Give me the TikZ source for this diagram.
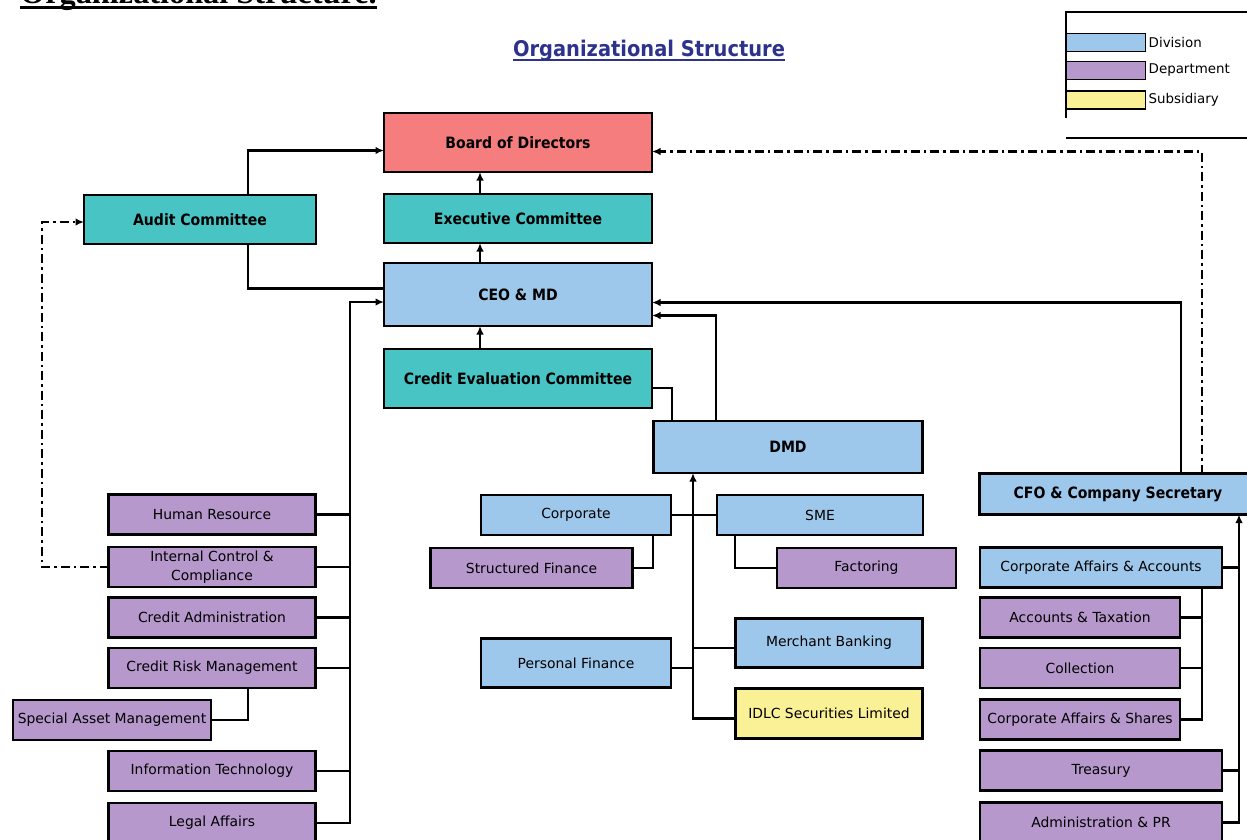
\documentclass[tikz,border=0pt]{standalone}
\usepackage{fontspec}
\setmainfont{DejaVu Sans}[BoldFeatures={FakeStretch=0.9}]
\newfontfamily\oldserif{Liberation Serif}
\usetikzlibrary{positioning}
\usetikzlibrary{calc}
\usetikzlibrary{arrows.meta}

\definecolor{boardred}{RGB}{245,125,125}
\definecolor{commteal}{RGB}{72,196,196}
\definecolor{divblue}{RGB}{158,200,235}
\definecolor{deptpurple}{RGB}{183,152,204}
\definecolor{subyellow}{RGB}{250,240,150}
\definecolor{titleblue}{RGB}{45,50,140}

\tikzset{
  box/.style={draw, line width=2.6pt, inner sep=0pt, outer sep=0pt, align=center,
    minimum height=40pt, font=\fontsize{13.9}{19}\selectfont},
  boldbox/.style={box, font=\fontsize{15.6}{19}\selectfont\bfseries},
  boardbox/.style={boldbox, fill=boardred},
  commbox/.style={boldbox, fill=commteal},
  headbox/.style={boldbox, fill=divblue},
  divbox/.style={box, fill=divblue},
  deptbox/.style={box, fill=deptpurple},
  subbox/.style={box, fill=subyellow},
  legbox/.style={draw, line width=1.5pt, minimum width=79pt, minimum height=18pt, inner sep=0pt, outer sep=0pt},
  legtext/.style={inner sep=0pt, font=\fontsize{13.4}{15}\selectfont},
  link/.style={line width=2.3pt},
  tip/.style={-{Latex[length=8.5pt,width=7.5pt]}},
  arr/.style={link, tip},
  dashdot/.style={line width=2.3pt, dash pattern=on 9pt off 4pt on 2.5pt off 4pt}
}

\begin{document}
\begin{tikzpicture}[x=1pt, y=-1pt]
  \useasboundingbox (0,0) rectangle (1247,839);

  % titoli
  \node[anchor=base west, inner sep=0pt, font=\oldserif\bfseries\fontsize{32.3}{34}\selectfont] (oldtitle) at (20,3) {Organizational Structure.};
  \draw[line width=3pt] ($(oldtitle.base west)+(0,4.5)$) -- ($(oldtitle.base east)+(0,4.5)$);
  \node[anchor=base, inner sep=0pt, text=titleblue, font=\fontsize{21.6}{24}\selectfont\bfseries] (title) at (649,56) {Organizational Structure};
  \draw[titleblue, line width=1.6pt] ($(title.base west)+(0,4)$) -- ($(title.base east)+(0,4)$);

  % legenda
  \draw[line width=2pt] (1247,12) -| (1066,118);
  \draw[line width=2pt] (1066,138) -- (1247,138);
  \node[legbox, fill=divblue] (legdiv) at (1106,42.5) {};
  \node[legbox, fill=deptpurple] (legdept) at (1106,70.5) {};
  \node[legbox, fill=subyellow] (legsub) at (1106,100) {};
  \node[legtext, right=3pt of legdiv] (legdivtxt) {Division};
  \node[legtext, right=3pt of legdept] (legdepttxt) {Department};
  \node[legtext, right=3pt of legsub] (legsubtxt) {Subsidiary};

  % vertici
  \node[boardbox, minimum width=268pt, minimum height=59pt] (board) at (518,142.5) {Board of Directors};
  \node[commbox, minimum width=268pt, minimum height=49pt, below=22pt of board] (exec) {Executive Committee};
  \node[headbox, minimum width=268pt, minimum height=63pt, below=20pt of exec] (ceo) {CEO \& MD};
  \node[commbox, minimum width=268pt, minimum height=59pt, below=23pt of ceo] (cec) {Credit Evaluation Committee};
  \node[commbox, minimum width=232pt, minimum height=49pt] (audit) at (200,219.5) {Audit Committee};
  \node[headbox, minimum width=269pt, minimum height=52pt] (dmd) at (788,447) {DMD};
  \node[headbox, minimum width=277pt, minimum height=41pt] (cfo) at (1118,494) {CFO \& Company Secretary};

  % colonna sinistra
  \node[deptbox, minimum width=207pt] (hr) at (212,514.5) {Human Resource};
  \node[deptbox, minimum width=207pt, below=12.5pt of hr] (icc) {Internal Control \&\\Compliance};
  \node[deptbox, minimum width=207pt, below=10.5pt of icc] (ca) {Credit Administration};
  \node[deptbox, minimum width=207pt, below=10.5pt of ca] (crm) {Credit Risk Management};
  \node[deptbox, minimum width=198pt] (sam) at (112,720) {Special Asset Management};
  \node[deptbox, minimum width=207pt, below=63pt of crm] (it) {Information Technology};
  \node[deptbox, minimum width=207pt, below=12pt of it] (la) {Legal Affairs};

  % colonna centrale
  \node[divbox, minimum width=190pt] (corp) at (576,515) {Corporate};
  \node[divbox, minimum width=206pt, right=46pt of corp] (sme) {SME};
  \node[deptbox, minimum width=202pt] (sf) at (531.5,568) {Structured Finance};
  \node[deptbox, minimum width=179pt] (fact) at (866.5,568) {Factoring};
  \node[divbox, minimum width=190pt, minimum height=49pt] (pf) at (576,663) {Personal Finance};
  \node[divbox, minimum width=187pt, minimum height=49pt] (mb) at (829,643) {Merchant Banking};
  \node[subbox, minimum width=187pt, minimum height=50pt, below=21pt of mb] (idlc) {IDLC Securities Limited};

  % colonna destra
  \node[divbox, minimum width=242pt] (caa) at (1101,567.5) {Corporate Affairs \& Accounts};
  \node[deptbox, minimum width=200pt, below right=10pt and 0pt of caa.south west] (acctax) {Accounts \& Taxation};
  \node[deptbox, minimum width=200pt, below=10.5pt of acctax] (coll) {Collection};
  \node[deptbox, minimum width=200pt, below=11.5pt of coll] (cas) {Corporate Affairs \& Shares};
  \node[deptbox, minimum width=242pt, below right=11pt and 0pt of cas.south west] (treas) {Treasury};
  \node[deptbox, minimum width=242pt, below=12pt of treas] (adm) {Administration \& PR};

  % punti delle linee
  \coordinate (mid) at (480,0);
  \coordinate (aud) at (248,0);
  \coordinate (lbus) at (350,302);
  \coordinate (ddl) at (42,222);
  \coordinate (cecx) at (672,0);
  \coordinate (dmdx) at (716,0);
  \coordinate (cfox) at (1181,0);
  \coordinate (cfodd) at (1202,0);
  \coordinate (mbus) at (693,0);
  \coordinate (sfx) at (653,0);
  \coordinate (fx) at (735,0);
  \coordinate (rbus) at (1239,0);
  \coordinate (sbus) at (1202,0);

  % vertice
  \draw[arr] (exec.north -| mid) -- (board.south -| mid);
  \draw[arr] (ceo.north -| mid) -- (exec.south -| mid);
  \draw[arr] (cec.north -| mid) -- (ceo.south -| mid);
  \draw[arr] (audit.north -| aud) |- ($(board.west)+(0,8)$);
  \draw[link] (audit.south -| aud) |- ($(ceo.west)+(0,-6)$);
  \draw[dashdot, tip] (icc.west) -| (ddl) -- (ddl -| audit.west);
  \draw[link] ($(cec.east)+(0,9.5)$) -| (dmd.north -| cecx);
  \draw[arr] (dmd.north -| dmdx) |- ($(ceo.east)+(0,21)$);
  \draw[arr] (cfo.north -| cfox) |- ($(ceo.east)+(0,8)$);
  \draw[dashdot, tip] (cfo.north -| cfodd) |- ($(board.east)+(0,9)$);

  % sinistra
  \draw[arr] (la.east) -| (lbus) -- (lbus -| ceo.west);
  \draw[link] (hr.east) -- (hr.east -| lbus);
  \draw[link] (icc.east) -- (icc.east -| lbus);
  \draw[link] (ca.east) -- (ca.east -| lbus);
  \draw[link] (crm.east) -- (crm.east -| lbus);
  \draw[link] (it.east) -- (it.east -| lbus);
  \draw[link] (crm.south -| aud) |- (sam.east);

  % centro
  \draw[arr] ($(idlc.west)+(0,5)$) -| (dmd.south -| mbus);
  \draw[link] (corp.east) -- (sme.west);
  \draw[link] ($(pf.east)+(0,5)$) -- ($(pf.east -| mbus)+(0,5)$);
  \draw[link] ($(mb.west)+(0,5)$) -- ($(mb.west -| mbus)+(0,5)$);
  \draw[link] (corp.south -| sfx) |- (sf.east);
  \draw[link] (sme.south -| fx) |- (fact.west);

  % destra
  \draw[arr] (adm.east) -| (cfo.south -| rbus);
  \draw[link] (caa.east) -- (caa.east -| rbus);
  \draw[link] (treas.east) -- (treas.east -| rbus);
  \draw[link] (caa.south -| sbus) |- (cas.east);
  \draw[link] (acctax.east) -- (acctax.east -| sbus);
  \draw[link] (coll.east) -- (coll.east -| sbus);
\end{tikzpicture}
\end{document}
